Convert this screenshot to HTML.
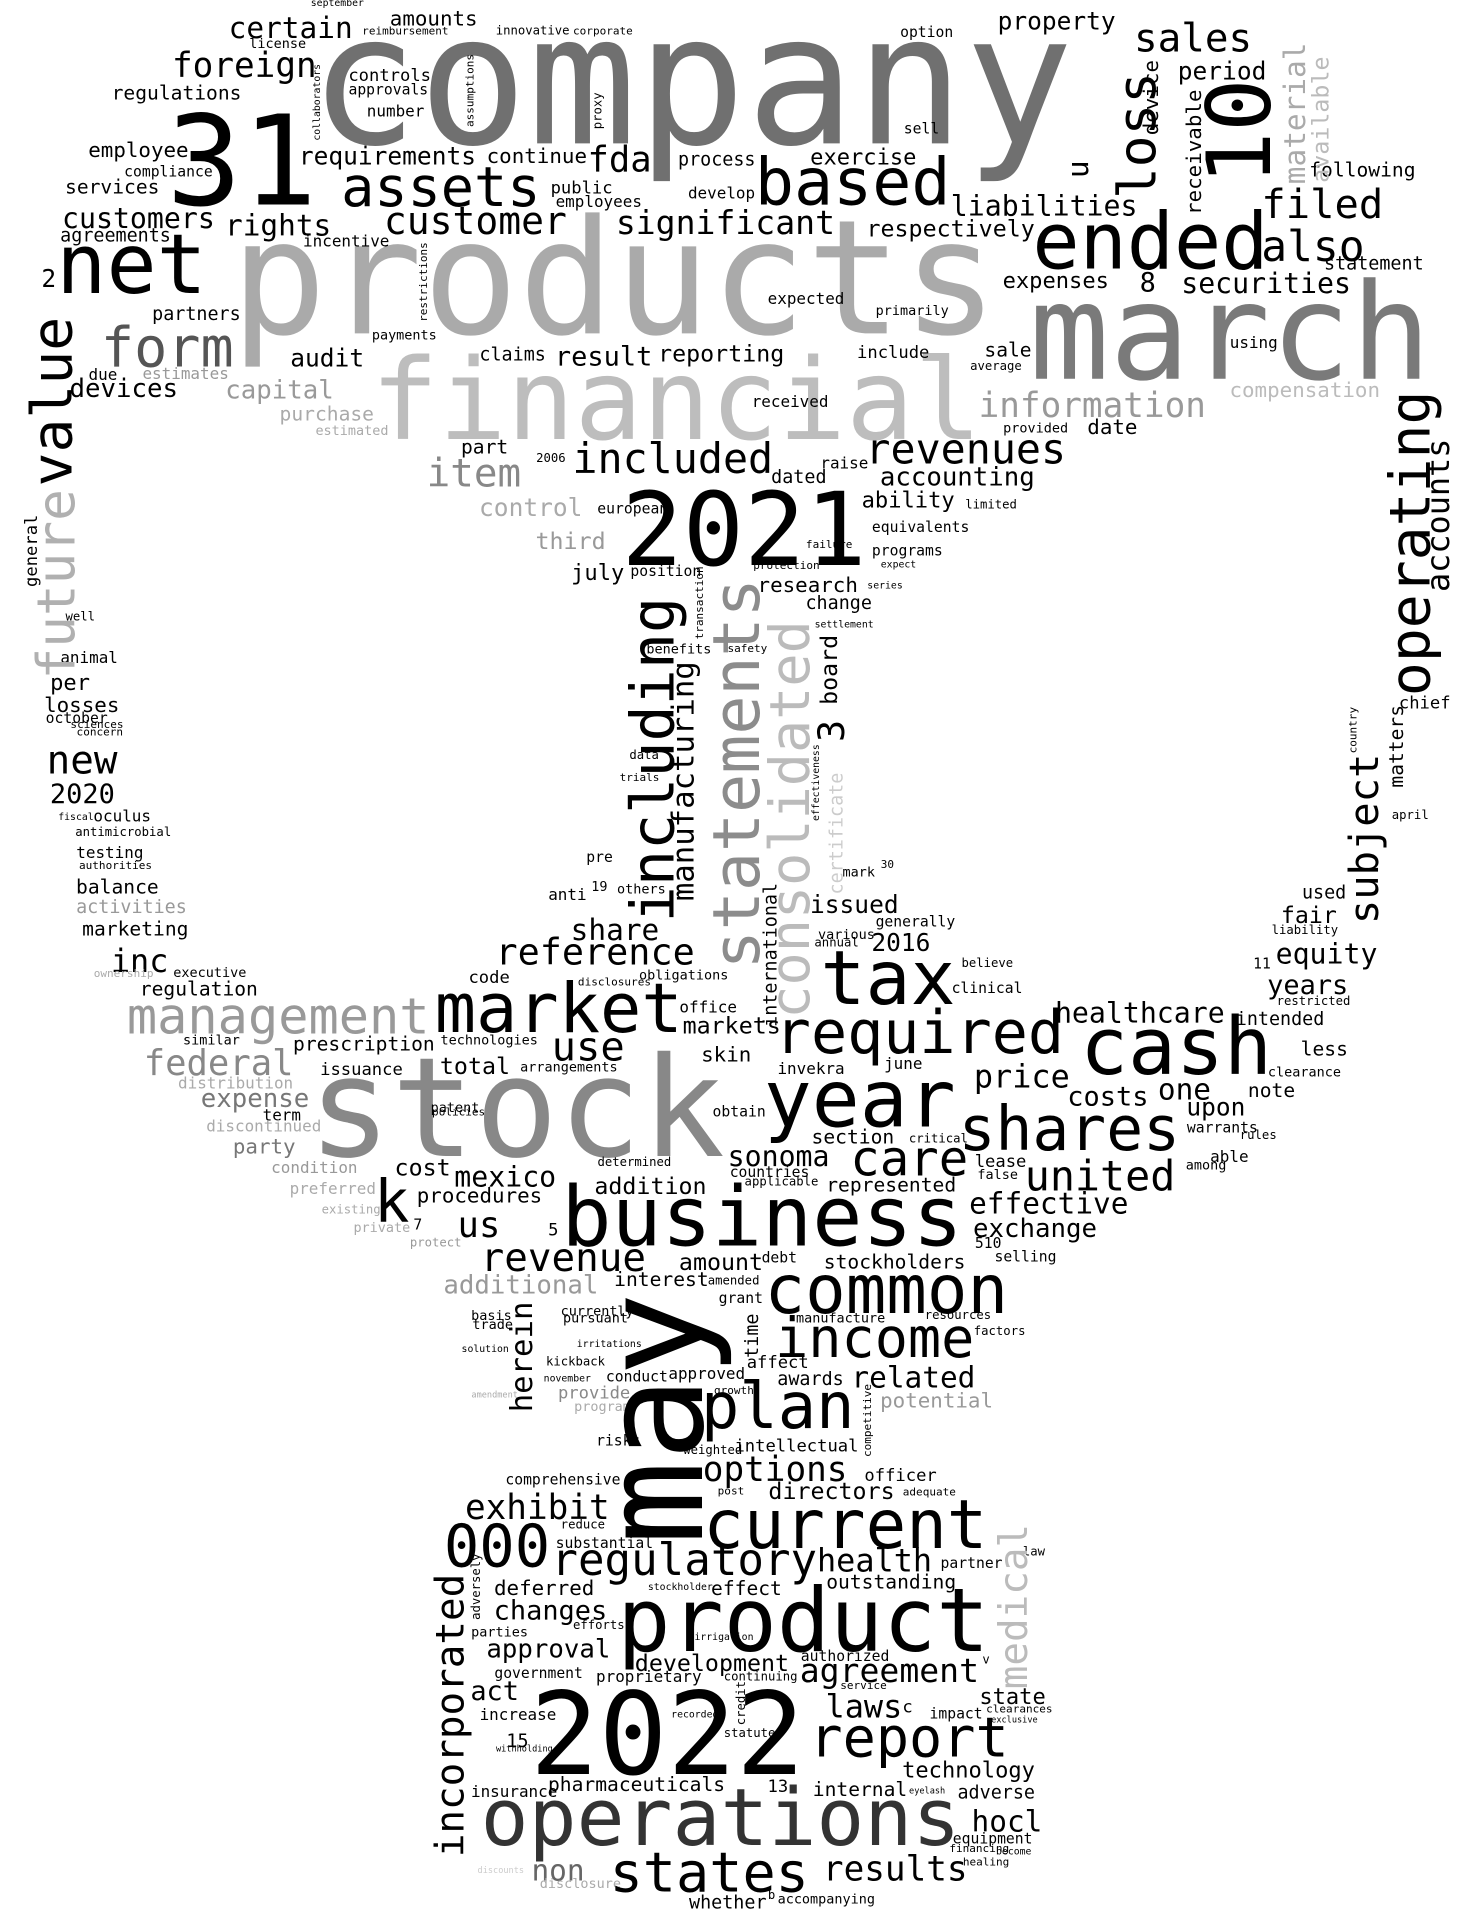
<!DOCTYPE html>
<html>
<head>
<meta charset="utf-8">
<style>
html,body{margin:0;padding:0;background:#fff;}
#wrap{position:relative;width:1471px;height:1920px;overflow:hidden;background:#fff;}
#cloud{position:absolute;left:0;top:0;width:1200px;height:1567px;transform:scale(1.22583);transform-origin:0 0;}
.w{position:absolute;white-space:nowrap;line-height:1;font-family:"DejaVu Sans Mono","Liberation Mono",monospace;}
</style>
</head>
<body>
<div id="wrap">
<div id="cloud"></div>
</div>
<script>
// word, glyph-left x (or baseline x for vertical), baseline y (or bottom y for vertical), font-size, color, rotation
const words = [
['company',261,117,148,'#707070',0],
['products',196,272,130,'#aaaaaa',0],
['financial',308,359,92,'#bdbdbd',0],
['march',846,309,109,'#7a7a7a',0],
['31',142,168,102,'#000',0],
['net',50,240,68,'#000',0],
['form',85,299,45,'#555',0],
['assets',281,168,45,'#000',0],
['customer',315,192,31,'#000',0],
['based',619,168,53,'#000',0],
['ended',846,220,64,'#000',0],
['also',1031,215,35,'#000',0],
['filed',1031,178,33,'#000',0],
['sales',927,42,32,'#000',0],
['period',962,65,20,'#000',0],
['property',815,24,20,'#000',0],
['option',735,30,12,'#000',0],
['fda',481,141,29,'#000',0],
['rights',185,192,24,'#000',0],
['foreign',142,64,28,'#000',0],
['certain',188,31,24,'#000',0],
['license',204,39,11,'#000',0],
['amounts',319,22,17,'#000',0],
['reimbursement',296,30,9,'#000',0],
['september',254,6,8,'#000',0],
['innovative',405,29,10,'#000',0],
['corporate',468,30,9,'#000',0],
['controls',285,67,14,'#000',0],
['approvals',285,77,12,'#000',0],
['number',300,96,13,'#000',0],
['requirements',245,134,20,'#000',0],
['continue',398,134,17,'#000',0],
['regulations',92,82,16,'#000',0],
['employee',73,129,17,'#000',0],
['compliance',102,144,12,'#000',0],
['services',54,159,16,'#000',0],
['customers',52,187,23,'#000',0],
['agreements',50,198,15,'#000',0],
['partners',125,262,15,'#000',0],
['audit',238,299,20,'#000',0],
['devices',58,325,21,'#000',0],
['capital',185,326,21,'#999',0],
['purchase',229,344,16,'#aaa',0],
['estimated',258,355,11,'#aaa',0],
['estimates',117,310,13,'#999',0],
['due',73,311,13,'#000',0],
['2',35,234,20,'#000',0],
['incentive',248,202,13,'#000',0],
['liabilities',777,177,23,'#000',0],
['respectively',708,194,19,'#000',0],
['significant',504,192,27,'#000',0],
['process',554,136,15,'#000',0],
['develop',562,163,13,'#000',0],
['public',450,159,14,'#000',0],
['employees',454,170,13,'#000',0],
['exercise',662,135,18,'#000',0],
['sell',738,109,12,'#000',0],
['following',1069,145,16,'#000',0],
['statement',1081,221,15,'#000',0],
['securities',965,240,23,'#000',0],
['8',931,240,22,'#000',0],
['expenses',819,236,18,'#000',0],
['expected',627,249,13,'#000',0],
['primarily',715,257,11,'#000',0],
['sale',804,292,16,'#000',0],
['average',792,303,10,'#000',0],
['information',800,341,28,'#999',0],
['compensation',1004,325,17,'#bbb',0],
['using',1004,285,13,'#000',0],
['provided',819,353,11,'#000',0],
['date',888,355,17,'#000',0],
['include',700,293,14,'#000',0],
['reporting',538,296,19,'#000',0],
['result',454,300,22,'#000',0],
['claims',392,295,15,'#000',0],
['payments',304,277,11,'#000',0],
['revenues',708,379,34,'#000',0],
['accounting',719,397,21,'#000',0],
['included',469,387,34,'#000',0],
['item',350,397,32,'#888',0],
['part',377,371,16,'#000',0],
['2006',438,378,10,'#000',0],
['dated',630,395,15,'#000',0],
['raise',670,383,13,'#000',0],
['received',614,333,13,'#000',0],
['2021',512,461,83,'#000',0],
['control',392,421,20,'#aaa',0],
['european',488,419,12,'#000',0],
['third',438,449,19,'#999',0],
['july',467,474,18,'#000',0],
['position',515,470,12,'#000',0],
['ability',704,415,18,'#000',0],
['limited',788,416,10,'#000',0],
['equivalents',712,434,12,'#000',0],
['programs',712,453,12,'#000',0],
['failure',658,449,9,'#000',0],
['expect',719,464,8,'#000',0],
['protection',615,466,9,'#000',0],
['series',708,481,8,'#000',0],
['research',619,484,17,'#000',0],
['change',658,498,15,'#000',0],
['settlement',665,513,8,'#000',0],
['per',42,564,18,'#000',0],
['losses',37,582,17,'#000',0],
['october',38,590,12,'#000',0],
['sciences',58,596,9,'#000',0],
['concern',63,602,9,'#000',0],
['well',54,507,10,'#000',0],
['animal',50,542,13,'#000',0],
['new',40,631,32,'#000',0],
['2020',42,657,22,'#000',0],
['fiscal',48,670,8,'#000',0],
['oculus',77,671,13,'#000',0],
['antimicrobial',62,683,10,'#000',0],
['testing',63,701,13,'#000',0],
['authorities',65,711,9,'#000',0],
['balance',63,730,16,'#000',0],
['activities',63,746,15,'#999',0],
['marketing',68,764,16,'#000',0],
['inc',92,794,26,'#000',0],
['executive',142,797,11,'#000',0],
['ownership',77,799,9,'#aaa',0],
['regulation',115,813,16,'#000',0],
['share',467,767,24,'#000',0],
['reference',406,788,30,'#000',0],
['issued',662,745,20,'#000',0],
['2016',712,776,20,'#000',0],
['generally',715,756,12,'#000',0],
['various',668,766,11,'#000',0],
['annual',665,773,10,'#000',0],
['tax',673,820,61,'#000',0],
['clinical',777,810,12,'#000',0],
['believe',785,790,10,'#000',0],
['code',383,803,14,'#000',0],
['anti',448,735,13,'#000',0],
['obligations',522,799,11,'#000',0],
['disclosures',472,806,9,'#000',0],
['pre',479,703,12,'#000',0],
['19',483,727,11,'#000',0],
['others',504,729,11,'#000',0],
['mark',688,715,11,'#000',0],
['30',719,710,9,'#000',0],
['data',514,620,10,'#000',0],
['trials',506,639,9,'#000',0],
['benefits',528,533,11,'#000',0],
['safety',594,534,9,'#000',0],
['used',1063,734,15,'#000',0],
['fair',1046,754,19,'#000',0],
['liability',1038,763,10,'#000',0],
['equity',1042,787,23,'#000',0],
['11',1023,790,12,'#000',0],
['years',1035,813,22,'#000',0],
['april',1136,669,10,'#000',0],
['chief',1142,579,14,'#000',0],
['management',106,844,41,'#999',0],
['market',358,843,56,'#000',0],
['required',635,859,49,'#000',0],
['cash',885,877,65,'#000',0],
['healthcare',862,835,23,'#000',0],
['intended',1009,837,15,'#000',0],
['restricted',1042,821,10,'#000',0],
['less',1062,862,16,'#000',0],
['clearance',1035,878,11,'#000',0],
['note',1019,896,16,'#000',0],
['upon',969,910,20,'#000',0],
['one',946,897,24,'#000',0],
['warrants',969,924,12,'#000',0],
['rules',1012,930,10,'#000',0],
['able',988,949,13,'#000',0],
['among',968,954,11,'#000',0],
['price',796,888,26,'#000',0],
['costs',872,904,22,'#000',0],
['year',627,920,65,'#000',0],
['shares',785,938,50,'#000',0],
['care',696,960,40,'#000',0],
['section',663,934,16,'#000',0],
['critical',742,933,10,'#000',0],
['sonoma',595,952,23,'#000',0],
['countries',596,960,12,'#000',0],
['applicable',608,968,10,'#000',0],
['represented',675,973,16,'#000',0],
['lease',796,953,14,'#000',0],
['false',798,962,11,'#000',0],
['united',838,972,34,'#000',0],
['effective',792,990,24,'#000',0],
['exchange',795,1010,21,'#000',0],
['510',796,1018,12,'#000',0],
['selling',812,1029,12,'#000',0],
['stock',258,943,113,'#888',0],
['federal',119,878,29,'#888',0],
['prescription',240,858,16,'#000',0],
['technologies',360,852,11,'#000',0],
['use',452,865,33,'#000',0],
['office',555,827,13,'#000',0],
['markets',558,844,19,'#000',0],
['skin',573,867,17,'#000',0],
['invekra',635,877,13,'#000',0],
['june',722,873,13,'#000',0],
['arrangements',425,874,11,'#000',0],
['total',360,877,19,'#000',0],
['issuance',262,878,14,'#000',0],
['distribution',146,889,13,'#aaa',0],
['similar',150,852,11,'#000',0],
['expense',165,904,21,'#777',0],
['term',215,915,13,'#000',0],
['discontinued',169,924,13,'#aaa',0],
['party',191,942,17,'#777',0],
['patent',352,907,11,'#000',0],
['policies',353,912,9,'#000',0],
['obtain',582,911,12,'#000',0],
['condition',222,958,13,'#999',0],
['preferred',237,975,13,'#aaa',0],
['existing',263,991,10,'#aaa',0],
['private',289,1005,11,'#aaa',0],
['protect',335,1018,10,'#999',0],
['k',308,998,48,'#000',0],
['cost',323,960,19,'#000',0],
['mexico',372,969,23,'#000',0],
['procedures',341,982,17,'#000',0],
['addition',486,975,19,'#000',0],
['determined',488,952,10,'#000',0],
['us',375,1010,29,'#000',0],
['5',448,1009,14,'#000',0],
['7',338,1003,12,'#000',0],
['business',462,1017,68,'#000',0],
['revenue',394,1037,32,'#000',0],
['amount',555,1037,19,'#000',0],
['debt',622,1030,12,'#000',0],
['stockholders',673,1036,16,'#000',0],
['additional',363,1056,21,'#999',0],
['interest',502,1050,16,'#000',0],
['amended',578,1049,10,'#000',0],
['grant',587,1063,12,'#000',0],
['common',627,1071,55,'#000',0],
['income',635,1107,45,'#000',0],
['manufacture',650,1079,11,'#000',0],
['resources',755,1077,10,'#000',0],
['factors',795,1090,10,'#000',0],
['currently',458,1073,11,'#000',0],
['pursuant',460,1079,11,'#000',0],
['basis',385,1077,11,'#000',0],
['trade',386,1084,11,'#000',0],
['irritations',471,1100,8,'#000',0],
['solution',377,1104,8,'#000',0],
['kickback',446,1115,10,'#000',0],
['affect',610,1117,14,'#000',0],
['related',696,1132,24,'#000',0],
['awards',635,1131,15,'#000',0],
['approved',546,1126,13,'#000',0],
['conduct',495,1127,12,'#000',0],
['november',444,1128,8,'#000',0],
['provide',456,1142,14,'#888',0],
['program',469,1151,11,'#aaa',0],
['amendment',385,1141,7,'#aaa',0],
['potential',719,1149,17,'#999',0],
['plan',575,1166,52,'#000',0],
['growth',583,1139,9,'#000',0],
['risks',487,1179,12,'#000',0],
['intellectual',600,1185,14,'#000',0],
['weighted',558,1187,10,'#000',0],
['options',575,1209,28,'#000',0],
['officer',706,1209,14,'#000',0],
['comprehensive',413,1211,12,'#000',0],
['directors',628,1224,19,'#000',0],
['adequate',737,1222,9,'#000',0],
['post',586,1221,9,'#000',0],
['exhibit',381,1240,28,'#000',0],
['current',577,1263,55,'#000',0],
['reduce',458,1248,10,'#000',0],
['000',365,1279,48,'#000',0],
['substantial',454,1263,12,'#000',0],
['regulatory',452,1286,36,'#000',0],
['health',668,1283,26,'#000',0],
['partner',768,1279,12,'#000',0],
['law',835,1270,10,'#000',0],
['outstanding',675,1297,16,'#000',0],
['effect',581,1302,16,'#000',0],
['stockholder',529,1298,8,'#000',0],
['deferred',404,1302,17,'#000',0],
['changes',404,1323,22,'#000',0],
['efforts',468,1330,10,'#000',0],
['parties',385,1335,11,'#000',0],
['product',508,1347,72,'#000',0],
['approval',398,1353,21,'#000',0],
['irrigation',567,1339,8,'#000',0],
['development',519,1364,19,'#000',0],
['authorized',654,1355,12,'#000',0],
['agreement',654,1373,27,'#000',0],
['v',802,1358,10,'#000',0],
['government',404,1369,12,'#000',0],
['proprietary',487,1373,13,'#000',0],
['continuing',591,1372,10,'#000',0],
['service',686,1380,9,'#000',0],
['act',385,1389,22,'#000',0],
['2022',438,1448,93,'#000',0],
['laws',675,1402,26,'#000',0],
['c',737,1398,14,'#000',0],
['state',800,1391,18,'#000',0],
['impact',759,1402,12,'#000',0],
['clearances',805,1399,9,'#000',0],
['exclusive',809,1406,7,'#000',0],
['increase',392,1404,13,'#000',0],
['recorded',548,1402,8,'#000',0],
['statute',591,1418,10,'#000',0],
['15',414,1426,15,'#000',0],
['withholding',405,1430,7,'#000',0],
['report',663,1433,45,'#000',0],
['technology',737,1451,18,'#000',0],
['pharmaceuticals',448,1462,16,'#000',0],
['13',627,1463,14,'#000',0],
['internal',664,1466,16,'#000',0],
['eyelash',742,1464,7,'#000',0],
['adverse',782,1468,15,'#000',0],
['insurance',385,1467,13,'#000',0],
['operations',396,1506,65,'#333',0],
['hocl',794,1494,24,'#000',0],
['equipment',778,1504,12,'#000',0],
['financing',775,1513,9,'#000',0],
['become',813,1514,8,'#000',0],
['healing',786,1524,9,'#000',0],
['non',435,1534,24,'#666',0],
['disclosure',441,1540,11,'#aaa',0],
['discounts',390,1529,7,'#ccc',0],
['states',500,1543,45,'#000',0],
['results',673,1535,28,'#000',0],
['whether',563,1558,15,'#000',0],
['b',627,1550,10,'#000',0],
['accompanying',635,1553,11,'#000',0],
// vertical words (reading bottom-to-top): baseline x, bottom y
['value',58,394,46,'#000',-90],
['future',62,552,43,'#b0b0b0',-90],
['general',31,478,14,'#000',-90],
['loss',944,160,43,'#000',-90],
['10',1036,147,72,'#000',-90],
['u',888,144,24,'#000',-90],
['device',946,109,17,'#000',-90],
['receivable',981,174,17,'#000',-90],
['material',1065,149,24,'#aaa',-90],
['available',1085,148,19,'#bbb',-90],
['assumptions',388,103,9,'#000',-90],
['collaborators',262,114,8,'#000',-90],
['proxy',492,105,10,'#000',-90],
['restrictions',350,262,9,'#000',-90],
['operating',1166,565,46,'#000',-90],
['accounts',1183,481,26,'#000',-90],
['including',550,749,49,'#000',-90],
['statements',620,788,53,'#8c8c8c',-90],
['consolidated',660,828,45,'#bbb',-90],
['manufacturing',566,734,25,'#000',-90],
['board',684,574,19,'#000',-90],
['3',690,604,30,'#000',-90],
['international',634,837,15,'#000',-90],
['effectiveness',669,669,8,'#000',-90],
['certificate',688,729,15,'#ccc',-90],
['transaction',575,521,9,'#000',-90],
['subject',1124,752,33,'#000',-90],
['matters',1145,642,16,'#000',-90],
['country',1108,614,9,'#000',-90],
['time',619,1107,15,'#000',-90],
['herein',434,1151,25,'#000',-90],
['may',573,1253,114,'#000',-90],
['competitive',712,1188,9,'#000',-90],
['medical',838,1376,32,'#bbb',-90],
['adversely',393,1321,10,'#000',-90],
['credit',609,1407,10,'#000',-90],
['incorporated',378,1513,32,'#000',-90]
];
const cloud = document.getElementById('cloud');
for (const [t,x,y,fs,c,r] of words) {
  const el = document.createElement('span');
  el.className = 'w';
  el.textContent = t;
  
  
  el.style.fontSize = fs + 'px';
  el.style.color = c;
  const b = 0.845 * fs;
  if (r) {
    el.style.left = x + 'px';
    el.style.top = (y + 0.06 * fs - b) + 'px';
    el.style.transformOrigin = '0 ' + b + 'px';
    el.style.transform = 'rotate(' + r + 'deg)';
  } else {
    el.style.left = (x - 0.06 * fs) + 'px';
    el.style.top = (y - b) + 'px';
  }
  cloud.appendChild(el);
}
</script>
</body>
</html>
